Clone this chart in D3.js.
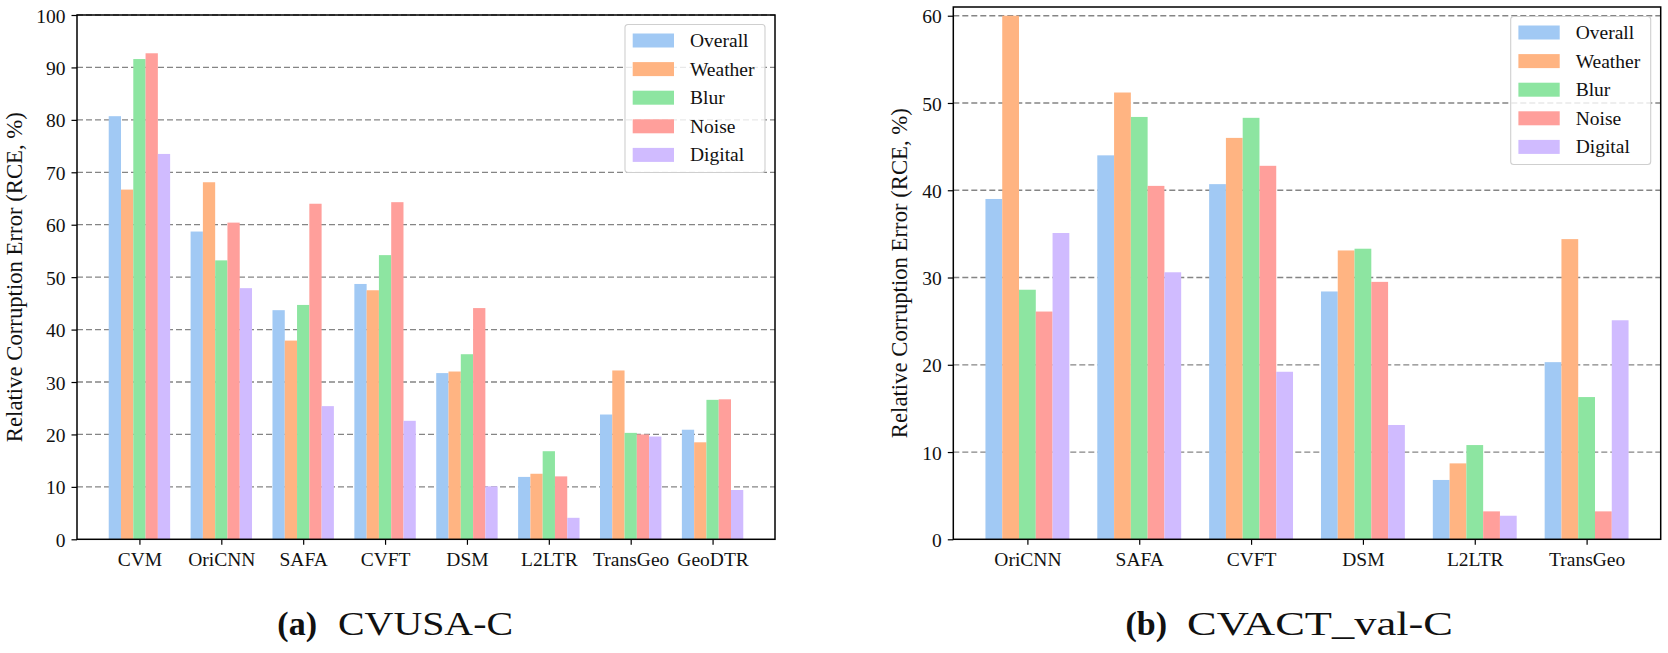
<!DOCTYPE html>
<html>
<head>
<meta charset="utf-8">
<script src="https://cdn.jsdelivr.net/npm/d3@7"></script>
<style>
  html, body { margin: 0; padding: 0; background: #ffffff; }
  svg { display: block; }
</style>
</head>
<body>
<svg id="fig" width="1668" height="653"></svg>
<script>
// ---------- data ----------
const seriesNames = ["Overall", "Weather", "Blur", "Noise", "Digital"];
const seriesColors = ["#a1c9f4", "#ffb482", "#8de5a1", "#ff9f9b", "#d0bbff"];

// (a) CVUSA-C
const cvusaCategories = ["CVM", "OriCNN", "SAFA", "CVFT", "DSM", "L2LTR", "TransGeo", "GeoDTR"];
const cvusaOverall = [80.7, 58.7, 43.7, 48.7, 31.7, 11.9, 23.8, 20.9];
const cvusaWeather = [66.7, 68.1, 37.9, 47.5, 32.0, 12.5, 32.2, 18.5];
const cvusaBlur    = [91.6, 53.2, 44.7, 54.2, 35.3, 16.8, 20.3, 26.6];
const cvusaNoise   = [92.7, 60.4, 64.0, 64.3, 44.1, 12.0, 20.0, 26.7];
const cvusaDigital = [73.5, 47.9, 25.4, 22.6, 10.1,  4.1, 19.6,  9.4];
const cvusaTicks = [0, 10, 20, 30, 40, 50, 60, 70, 80, 90, 100];

// (b) CVACT_val-C
const cvactCategories = ["OriCNN", "SAFA", "CVFT", "DSM", "L2LTR", "TransGeo"];
const cvactOverall = [39.0, 44.0, 40.7, 28.4,  6.8, 20.3];
const cvactWeather = [60.0, 51.2, 46.0, 33.1,  8.7, 34.4];
const cvactBlur    = [28.6, 48.4, 48.3, 33.3, 10.8, 16.3];
const cvactNoise   = [26.1, 40.5, 42.8, 29.5,  3.2,  3.2];
const cvactDigital = [35.1, 30.6, 19.2, 13.1,  2.7, 25.1];
const cvactTicks = [0, 10, 20, 30, 40, 50, 60];

const yLabel = "Relative Corruption Error (RCE, %)";

// ---------- drawing ----------
const svg = d3.select("#fig");
const FONT = "'Liberation Serif', 'Times New Roman', serif";

function drawChart(cfg) {
  const { left, right, top, bottom, categories, series, yMax, ticks, ylabelX } = cfg;
  const n = categories.length;
  const barW = 0.15;
  const pad = (n - 1 + 5 * barW) * 0.05; // matplotlib-like margin
  const x = d3.scaleLinear()
    .domain([-2.5 * barW - pad, (n - 1) + 2.5 * barW + pad])
    .range([left, right]);
  const y = d3.scaleLinear().domain([0, yMax]).range([bottom, top]);

  const g = svg.append("g");

  // grid
  g.append("g").selectAll("line")
    .data(ticks.filter(t => t > 0 && t < yMax + 1e-9))
    .join("line")
    .attr("x1", left).attr("x2", right)
    .attr("y1", d => y(d)).attr("y2", d => y(d))
    .attr("stroke", "#858585")
    .attr("stroke-width", 1.3)
    .attr("stroke-dasharray", "6,3");

  // bars
  const rows = [];
  series.forEach((vals, j) => {
    vals.forEach((v, i) => rows.push({ i, j, v }));
  });
  g.append("g").selectAll("rect")
    .data(rows)
    .join("rect")
    .attr("x", d => x(d.i + (d.j - 2) * barW - barW / 2))
    .attr("width", d => x(barW) - x(0))
    .attr("y", d => y(d.v))
    .attr("height", d => y(0) - y(d.v))
    .attr("fill", d => seriesColors[d.j]);

  // axes
  const xAxis = d3.axisBottom(x)
    .tickValues(d3.range(n))
    .tickFormat(i => categories[i])
    .tickSize(5.5)
    .tickPadding(6);
  const xg = g.append("g").attr("transform", `translate(0,${bottom})`).call(xAxis);
  xg.select(".domain").remove();
  xg.attr("font-family", FONT).attr("font-size", 19.5);
  xg.selectAll(".tick line").attr("stroke", "#000").attr("stroke-width", 1.2);
  xg.selectAll(".tick text")
    .attr("font-family", FONT).attr("font-size", 19.5).attr("fill", "#111")
    .attr("dy", null).attr("y", 26.5);

  const yAxis = d3.axisLeft(y)
    .tickValues(ticks)
    .tickFormat(d3.format("d"))
    .tickSize(5.5)
    .tickPadding(6);
  const yg = g.append("g").attr("transform", `translate(${left},0)`).call(yAxis);
  yg.select(".domain").remove();
  yg.attr("font-family", FONT).attr("font-size", 19.5);
  yg.selectAll(".tick line").attr("stroke", "#000").attr("stroke-width", 1.2);
  yg.selectAll(".tick text")
    .attr("font-family", FONT).attr("font-size", 19.5).attr("fill", "#111")
    .attr("dy", "0.36em");

  // frame
  g.append("rect")
    .attr("x", left).attr("y", top)
    .attr("width", right - left).attr("height", bottom - top)
    .attr("fill", "none").attr("stroke", "#000").attr("stroke-width", 1.5);

  // y label
  g.append("text")
    .attr("transform", `translate(${ylabelX},${(top + bottom) / 2}) rotate(-90)`)
    .attr("text-anchor", "middle")
    .attr("font-family", FONT).attr("font-size", 22.5).attr("fill", "#111")
    .attr("textLength", 330).attr("lengthAdjust", "spacingAndGlyphs")
    .text(yLabel);

  // legend
  const lw = 140, lh = 148;
  const lx = right - 10 - lw, ly = top + 9.5;
  const lg = g.append("g").attr("transform", `translate(${lx},${ly})`);
  lg.append("rect")
    .attr("width", lw).attr("height", lh).attr("rx", 3).attr("ry", 3)
    .attr("fill", "#ffffff").attr("fill-opacity", 0.82)
    .attr("stroke", "#cfcfcf").attr("stroke-width", 1.1);
  const item = lg.selectAll("g.item").data(seriesNames).join("g")
    .attr("class", "item")
    .attr("transform", (d, k) => `translate(0,${16 + k * 28.6})`);
  item.append("rect")
    .attr("x", 7.7).attr("y", -7).attr("width", 41.3).attr("height", 14)
    .attr("fill", (d, k) => seriesColors[k]);
  item.append("text")
    .attr("x", 65).attr("y", 6.5)
    .attr("font-family", FONT).attr("font-size", 19.5).attr("fill", "#111")
    .text(d => d);
}

drawChart({
  left: 77, right: 775, top: 15, bottom: 539.3,
  categories: cvusaCategories,
  series: [cvusaOverall, cvusaWeather, cvusaBlur, cvusaNoise, cvusaDigital],
  yMax: 100, ticks: cvusaTicks, ylabelX: 22
});

drawChart({
  left: 953.3, right: 1660.7, top: 7, bottom: 539.3,
  categories: cvactCategories,
  series: [cvactOverall, cvactWeather, cvactBlur, cvactNoise, cvactDigital],
  yMax: 61, ticks: cvactTicks, ylabelX: 906.5
});

// captions
function caption(label, word, labelEnd, wordStart, wordLen) {
  svg.append("text")
    .attr("x", labelEnd).attr("y", 635).attr("text-anchor", "end")
    .attr("font-family", FONT).attr("font-size", 34).attr("font-weight", "bold")
    .attr("fill", "#111").text(label);
  svg.append("text")
    .attr("x", wordStart).attr("y", 635)
    .attr("font-family", FONT).attr("font-size", 34).attr("fill", "#111")
    .attr("textLength", wordLen).attr("lengthAdjust", "spacingAndGlyphs")
    .text(word);
}
caption("(a)", "CVUSA-C", 317, 338, 175);
caption("(b)", "CVACT_val-C", 1167, 1187, 266);
</script>
</body>
</html>
